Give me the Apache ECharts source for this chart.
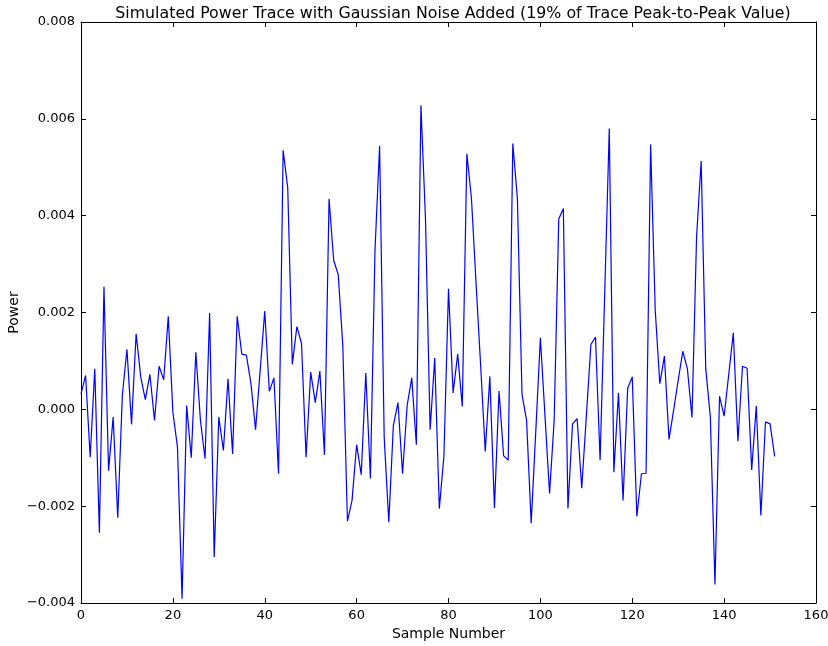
<!DOCTYPE html>
<html>
<head>
<meta charset="utf-8">
<script src="https://cdn.jsdelivr.net/npm/echarts@6/dist/echarts.min.js"></script>
<style>
html,body{margin:0;padding:0;background:#fff;}
#c{width:828px;height:646px;}
</style>
</head>
<body>
<div id="c"></div>
<script>
const titleText = "Simulated Power Trace with Gaussian Noise Added (19% of Trace Peak-to-Peak Value)";
const xLabel = "Sample Number";
const yLabel = "Power";
const xTicks = [0, 20, 40, 60, 80, 100, 120, 140, 160];
const yTicks = [-0.004, -0.002, 0.000, 0.002, 0.004, 0.006, 0.008];
const power = [
  0.00032, 0.00070, -0.00099, 0.00084, -0.00255, 0.00253, -0.00127, -0.00016, -0.00224, 0.00029,
  0.00124, -0.00031, 0.00156, 0.00067, 0.00020, 0.00072, -0.00023, 0.00089, 0.00061, 0.00192,
  -0.00006, -0.00078, -0.00391, 0.00008, -0.00100, 0.00118, -0.00023, -0.00102, 0.00199, -0.00305,
  -0.00016, -0.00085, 0.00063, -0.00092, 0.00192, 0.00114, 0.00112, 0.00053, -0.00042, 0.00080,
  0.00203, 0.00037, 0.00065, -0.00133, 0.00535, 0.00458, 0.00093, 0.00171, 0.00136, -0.00099,
  0.00077, 0.00014, 0.00079, -0.00094, 0.00435, 0.00308, 0.00278, 0.00130, -0.00231, -0.00188,
  -0.00073, -0.00135, 0.00075, -0.00143, 0.00329, 0.00544, -0.00057, -0.00233, -0.00033, 0.00014,
  -0.00133, 0.00008, 0.00065, -0.00073, 0.00628, 0.00390, -0.00042, 0.00106, -0.00205, -0.00097,
  0.00249, 0.00034, 0.00114, 0.00006, 0.00528, 0.00435, 0.00260, 0.00090, -0.00087, 0.00068,
  -0.00204, 0.00038, -0.00096, -0.00105, 0.00549, 0.00435, 0.00031, -0.00023, -0.00235, -0.00045,
  0.00148, -0.00013, -0.00174, -0.00023, 0.00393, 0.00415, -0.00205, -0.00030, -0.00019, -0.00163,
  -0.00015, 0.00134, 0.00149, -0.00105, 0.00238, 0.00580, -0.00130, 0.00034, -0.00188, 0.00043,
  0.00067, -0.00221, -0.00133, -0.00132, 0.00547, 0.00205, 0.00053, 0.00110, -0.00062, -0.00002,
  0.00060, 0.00120, 0.00084, -0.00017, 0.00356, 0.00513, 0.00084, -0.00016, -0.00362, 0.00027,
  -0.00014, 0.00072, 0.00158, -0.00066, 0.00089, 0.00085, -0.00125, 0.00007, -0.00219, -0.00026,
  -0.00030, -0.00097
];

const font = "DejaVu Sans";
const seriesData = power.map((v, i) => [i, v]);
const fmtY = v => (v < 0 ? "\u2212" : "") + Math.abs(v).toFixed(3);

const chart = echarts.init(document.getElementById('c'), null, {renderer: 'canvas'});
const axisLineStyle = {show: true, onZero: false, lineStyle: {color: '#000', width: 1}};
const tickStyle = {show: true, inside: true, length: 5, lineStyle: {color: '#000', width: 1}};
chart.setOption({
  animation: false,
  backgroundColor: '#fff',
  title: {
    text: titleText,
    left: 448, top: 1, textAlign: 'center',
    textStyle: {fontFamily: font, fontSize: 15.8, fontWeight: 'normal', color: '#000'}
  },
  grid: {left: 81, right: 12, top: 22, bottom: 43, containLabel: false, outerBoundsMode: 'none'},
  xAxis: [{
    type: 'value', min: xTicks[0], max: xTicks[xTicks.length - 1], interval: 20,
    position: 'bottom',
    name: xLabel, nameLocation: 'middle', nameGap: 24, nameMoveOverlap: false,
    nameTextStyle: {fontFamily: font, fontSize: 14, color: '#000'},
    axisLine: axisLineStyle, axisTick: tickStyle,
    axisLabel: {fontFamily: font, fontSize: 13, color: '#000', margin: 6},
    splitLine: {show: false}
  }, {
    type: 'value', min: xTicks[0], max: xTicks[xTicks.length - 1], interval: 20,
    position: 'top',
    axisLine: axisLineStyle, axisTick: tickStyle,
    axisLabel: {show: false}, splitLine: {show: false}
  }],
  yAxis: [{
    type: 'value', min: yTicks[0], max: yTicks[yTicks.length - 1], interval: 0.002,
    position: 'left',
    name: yLabel, nameLocation: 'middle', nameGap: 60, nameRotate: 90, nameMoveOverlap: false,
    nameTextStyle: {fontFamily: font, fontSize: 14, color: '#000'},
    axisLine: axisLineStyle, axisTick: tickStyle,
    axisLabel: {fontFamily: font, fontSize: 13, color: '#000', margin: 6, formatter: fmtY},
    splitLine: {show: false}
  }, {
    type: 'value', min: yTicks[0], max: yTicks[yTicks.length - 1], interval: 0.002,
    position: 'right',
    axisLine: axisLineStyle, axisTick: tickStyle,
    axisLabel: {show: false}, splitLine: {show: false}
  }],
  series: [{
    type: 'line',
    data: seriesData,
    xAxisIndex: 0, yAxisIndex: 0,
    showSymbol: false, symbol: 'none',
    lineStyle: {color: '#0000ff', width: 1.2},
    itemStyle: {color: '#0000ff'}
  }]
});
</script>
</body>
</html>
